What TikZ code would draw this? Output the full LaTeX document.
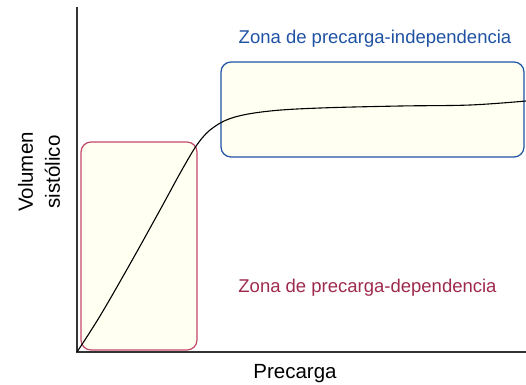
\documentclass[tikz,border=0pt]{standalone}
\usepackage{fontspec}
\setmainfont{Liberation Sans}
\usetikzlibrary{positioning}
\definecolor{zonablue}{HTML}{1F52A3}
\definecolor{zonared}{HTML}{9E2A4C}
\definecolor{boxred}{HTML}{C4486A}
\definecolor{boxfill}{HTML}{FFFFF2}
\tikzset{
curva/.style={
    x=1pt,
    y=-1pt,
    semithick
},
axis/.style={
    draw=black!80,
    line width=1.4pt
},
zone/.style={
    rectangle,
    rounded corners=10pt,
    line width=1.2pt,
    fill=boxfill,
    inner sep=0pt
},
zonetext/.style={
    anchor=base,
    inner sep=0pt,
    font=\fontsize{18.5}{22}\selectfont
},
axistext/.style={
    inner sep=0pt,
    align=center,
    font=\fontsize{20.5}{27}\selectfont
}}
\begin{document}
\begin{tikzpicture}[curva]
\useasboundingbox (0,0) rectangle (526,384);
\coordinate (o) at (77,352);
\coordinate (ytop) at (77,7);
\coordinate (xend) at (526,352);

\node[zone, draw=boxred, minimum width=116pt, minimum height=208pt] (dep) at (139,246) {};
\node[zone, draw=zonablue, minimum width=303pt, minimum height=95pt] (indep) at (372.5,109.5) {};

\draw[axis] (ytop) -- (o) -- (xend);

\draw[black, line width=1.1pt] plot[smooth, tension=0.6] coordinates {
    (77,352) (100,316) (130,264) (160,210) (183,168) (199,142)
    (214,127) (235,117) (270,111) (320,108) (400,106) (470,105) (526,101)};

\node[zonetext, text=zonablue] (lindep) at (375,43) {Zona de precarga-independencia};
\node[zonetext, text=zonared] (ldep) at (367.5,292) {Zona de precarga-dependencia};
\node[axistext, anchor=base] (lx) at (295,378.5) {Precarga};
\node[axistext, rotate=90] (ly) at (39,172) {Volumen\\sistólico};
\end{tikzpicture}
\end{document}
